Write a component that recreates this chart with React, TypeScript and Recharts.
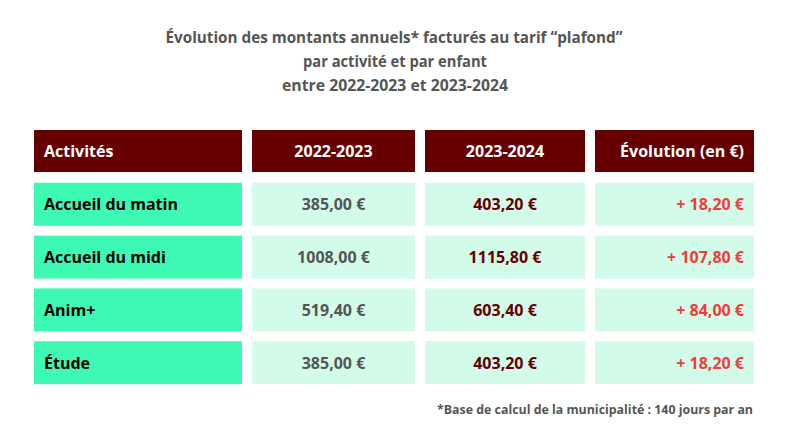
import React from 'react';
import { BarChart, Bar, XAxis, YAxis } from 'recharts';

const HEADERS = ['Activités', '2022-2023', '2023-2024', 'Évolution (en €)'];
const ACTIVITIES = ['Accueil du matin', 'Accueil du midi', 'Anim+', 'Étude'];
const AMOUNTS_2022 = [385, 1008, 519.4, 385];
const AMOUNTS_2023 = [403.2, 1115.8, 603.4, 403.2];
const EVOLUTION = [18.2, 107.8, 84, 18.2];

// layout constants (column bands incl. 10px gutter)
const COL_WIDTHS = [218, 173, 170, 169];
const GAP = 5;

const euro = (v: number) => v.toFixed(2).replace('.', ',') + ' €';

const rows = [
  { key: 'header', header: true, cells: HEADERS },
  ...ACTIVITIES.map((name, i) => ({
    key: name,
    header: false,
    cells: [name, euro(AMOUNTS_2022[i]), euro(AMOUNTS_2023[i]), '+ ' + euro(EVOLUTION[i])],
  })),
].map((r) => ({ ...r, w0: COL_WIDTHS[0], w1: COL_WIDTHS[1], w2: COL_WIDTHS[2], w3: COL_WIDTHS[3] }));

const TEXT_COLORS = ['#000000', '#555555', '#660000', '#f23b3b'];

const makeCell = (col: number) => (props: any) => {
  const { x, y, width, height, payload } = props;
  const header = payload.header;
  const h = header ? height - 1 : height;
  const fill = header ? '#660000' : col === 0 ? '#3ef9b3' : '#d3fbea';
  const left = x + GAP;
  const right = x + width - GAP;
  let tx = (left + right) / 2;
  let anchor: 'start' | 'middle' | 'end' = 'middle';
  if (col === 0) {
    tx = left + 10;
    anchor = 'start';
  } else if (col === 3) {
    tx = right - 10;
    anchor = 'end';
  }
  return (
    <g>
      <rect x={left} y={y} width={right - left} height={h} fill={fill} />
      <text
        x={tx}
        y={y + h / 2}
        textAnchor={anchor}
        dominantBaseline="central"
        fontFamily="'Open Sans', sans-serif"
        fontWeight={700}
        fontSize={16}
        fill={header ? '#ffffff' : TEXT_COLORS[col]}
      >
        {payload.cells[col]}
      </text>
    </g>
  );
};

export default function App() {
  const titleFont = { fontFamily: "'Open Sans', sans-serif", fontWeight: 700, fill: '#555555' };
  return (
    <div style={{ position: 'absolute', left: 0, top: 0, width: 790, height: 439, background: '#fff' }}>
      <BarChart
        width={790}
        height={439}
        data={rows}
        layout="vertical"
        margin={{ top: 125, bottom: 50, left: 29, right: 31 }}
        barCategoryGap={5}
      >
        <XAxis type="number" domain={[0, 730]} hide />
        <YAxis type="category" dataKey="key" hide />
        {[0, 1, 2, 3].map((c) => (
          <Bar key={c} dataKey={'w' + c} stackId="t" isAnimationActive={false} shape={makeCell(c)} />
        ))}
      </BarChart>
      <svg width={790} height={439} style={{ position: 'absolute', left: 0, top: 0, pointerEvents: 'none' }}>
        <text x={394} y={43} textAnchor="middle" fontSize={16} textLength={457} lengthAdjust="spacingAndGlyphs" {...titleFont}>
          Évolution des montants annuels* facturés au tarif “plafond”
        </text>
        <text x={395} y={67} textAnchor="middle" fontSize={16} textLength={184} lengthAdjust="spacingAndGlyphs" {...titleFont}>
          par activité et par enfant
        </text>
        <text x={395} y={91} textAnchor="middle" fontSize={16} textLength={226} lengthAdjust="spacingAndGlyphs" {...titleFont}>
          entre 2022-2023 et 2023-2024
        </text>
        <text x={437} y={414} fontSize={12} textLength={316} lengthAdjust="spacingAndGlyphs" {...titleFont}>
          *Base de calcul de la municipalité : 140 jours par an
        </text>
      </svg>
    </div>
  );
}
